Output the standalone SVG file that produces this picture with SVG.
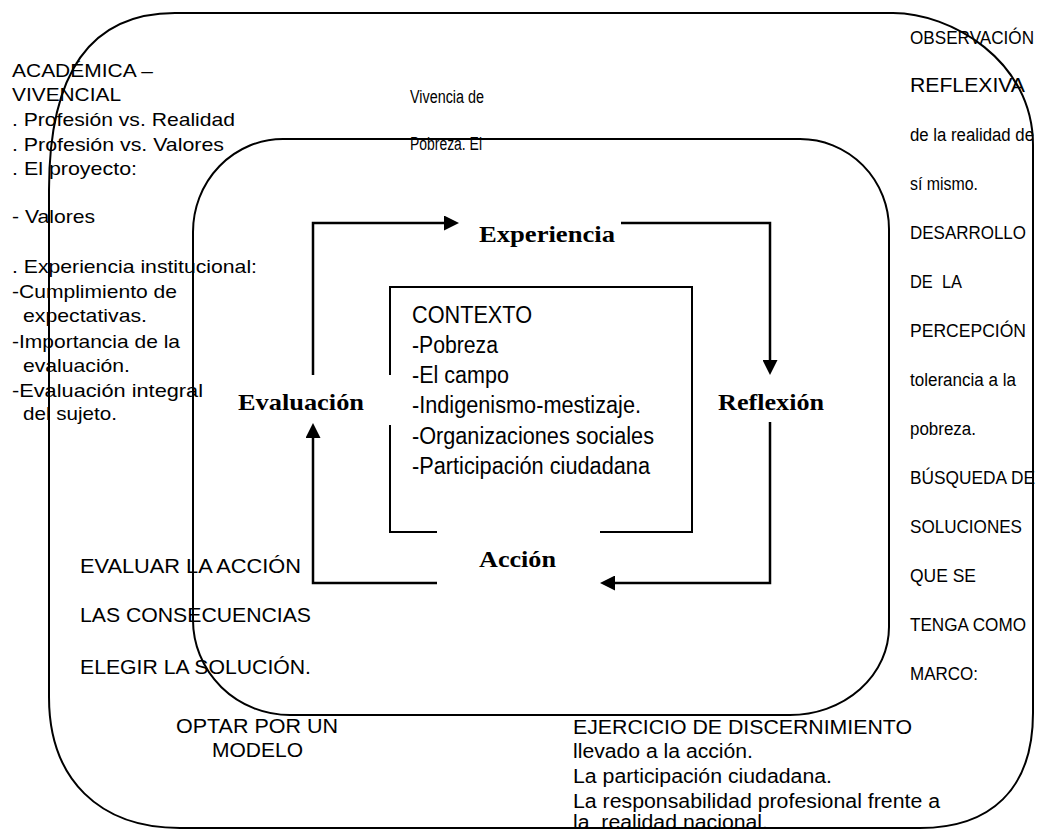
<svg xmlns="http://www.w3.org/2000/svg" width="1039" height="833" viewBox="0 0 1039 833">
<style>
.frame{fill:none;stroke:#000;stroke-width:2}
.conn{fill:none;stroke:#000;stroke-width:2.5;marker-end:url(#arr)}
.t{font-family:"Liberation Sans",Arial,sans-serif;font-size:19px;fill:#000}
.rf{font-family:"Liberation Sans",Arial,sans-serif;font-size:21px;fill:#000}
.n{font-family:"Liberation Sans Narrow","Arial Narrow","Liberation Sans",sans-serif;font-size:18px;fill:#000}
.b{font-family:"Liberation Sans Narrow","Arial Narrow","Liberation Sans",sans-serif;font-size:19.5px;fill:#000}
.ctx{font-family:"Liberation Sans Narrow","Arial Narrow","Liberation Sans",sans-serif;font-size:23px;fill:#000}
.lbl{font-family:"Liberation Serif","Times New Roman",serif;font-weight:bold;font-size:24px;fill:#000}
</style>
<defs>
<marker id="arr" markerUnits="userSpaceOnUse" markerWidth="15" markerHeight="15" refX="11" refY="7.5" orient="auto">
<path d="M0,0 L15,7.5 L0,15 Z" fill="#000"/>
</marker>
</defs>
<rect width="1039" height="833" fill="#fff"/>

<g id="outer-frame">
<path class="frame" d="M175,13 H893 C950,13 1033,60 1033,145 V713 C1033,790 990,828 920,828 H180 C100,828 49,780 49,697 V190 C49,60 100,13 175,13 Z"/>
</g>

<g id="inner-frame">
<path class="frame" d="M283,139 H800 A89,90 0 0 1 889,229 V627 A99,88 0 0 1 790,715 H290 A97,95 0 0 1 193,620 V232 A90,93 0 0 1 283,139 Z"/>
</g>

<g id="contexto">
<path class="frame" d="M390,375 V287 H692 V532 H600 M437,532 H390 V425"/>
<text class="ctx" x="412" y="323" textLength="120" lengthAdjust="spacingAndGlyphs">CONTEXTO</text>
<text class="ctx" x="412" y="353" textLength="86" lengthAdjust="spacingAndGlyphs">-Pobreza</text>
<text class="ctx" x="412" y="383" textLength="97" lengthAdjust="spacingAndGlyphs">-El campo</text>
<text class="ctx" x="412" y="413" textLength="229" lengthAdjust="spacingAndGlyphs">-Indigenismo-mestizaje.</text>
<text class="ctx" x="412" y="444" textLength="242" lengthAdjust="spacingAndGlyphs">-Organizaciones sociales</text>
<text class="ctx" x="412" y="474" textLength="238" lengthAdjust="spacingAndGlyphs">-Participación ciudadana</text>
</g>

<g id="experiencia"><text class="lbl" x="479" y="242" textLength="136" lengthAdjust="spacingAndGlyphs">Experiencia</text></g>
<g id="reflexion"><text class="lbl" x="718" y="410" textLength="106" lengthAdjust="spacingAndGlyphs">Reflexión</text></g>
<g id="accion"><text class="lbl" x="479" y="567" textLength="77" lengthAdjust="spacingAndGlyphs">Acción</text></g>
<g id="evaluacion"><text class="lbl" x="238" y="410" textLength="126" lengthAdjust="spacingAndGlyphs">Evaluación</text></g>

<g id="connectors">
<path class="conn" d="M313,375 V223 H455"/>
<path class="conn" d="M621,223 H770 V371"/>
<path class="conn" d="M770,422 V583 H604"/>
<path class="conn" d="M437,583 H313 V427"/>
</g>

<g id="academica-notes">
<text class="t" x="12" y="77" textLength="141" lengthAdjust="spacingAndGlyphs">ACADÉMICA –</text>
<text class="t" x="12" y="101" textLength="109" lengthAdjust="spacingAndGlyphs">VIVENCIAL</text>
<text class="t" x="12" y="125.5" textLength="223" lengthAdjust="spacingAndGlyphs">. Profesión vs. Realidad</text>
<text class="t" x="12" y="150.5" textLength="212" lengthAdjust="spacingAndGlyphs">. Profesión vs. Valores</text>
<text class="t" x="12" y="175" textLength="125" lengthAdjust="spacingAndGlyphs">. El proyecto:</text>
<text class="t" x="12" y="223" textLength="83" lengthAdjust="spacingAndGlyphs">- Valores</text>
<text class="t" x="12" y="273" textLength="245" lengthAdjust="spacingAndGlyphs">. Experiencia institucional:</text>
<text class="t" x="12" y="297.5" textLength="165" lengthAdjust="spacingAndGlyphs">-Cumplimiento de</text>
<text class="t" x="23" y="321.5" textLength="124" lengthAdjust="spacingAndGlyphs">expectativas.</text>
<text class="t" x="12" y="347.5" textLength="168" lengthAdjust="spacingAndGlyphs">-Importancia de la</text>
<text class="t" x="23" y="371.5" textLength="107" lengthAdjust="spacingAndGlyphs">evaluación.</text>
<text class="t" x="12" y="396.5" textLength="191" lengthAdjust="spacingAndGlyphs">-Evaluación integral</text>
<text class="t" x="23" y="420" textLength="94" lengthAdjust="spacingAndGlyphs">del sujeto.</text>
</g>

<g id="vivencia-notes">
<text class="n" x="410" y="103" textLength="74" lengthAdjust="spacingAndGlyphs">Vivencia de</text>
<text class="n" x="410" y="150" textLength="72" lengthAdjust="spacingAndGlyphs">Pobreza. El</text>
</g>

<g id="observacion-notes">
<text class="n" x="910" y="44" textLength="124" lengthAdjust="spacingAndGlyphs">OBSERVACIÓN</text>
<text class="rf" x="910" y="92" textLength="115" lengthAdjust="spacingAndGlyphs">REFLEXIVA</text>
<text class="n" x="910" y="141" textLength="124" lengthAdjust="spacingAndGlyphs">de la realidad de</text>
<text class="n" x="910" y="190" textLength="68" lengthAdjust="spacingAndGlyphs">sí mismo.</text>
<text class="n" x="910" y="239" textLength="116" lengthAdjust="spacingAndGlyphs">DESARROLLO</text>
<text class="n" x="910" y="288" textLength="52" lengthAdjust="spacingAndGlyphs" xml:space="preserve">DE  LA</text>
<text class="n" x="910" y="337" textLength="116" lengthAdjust="spacingAndGlyphs">PERCEPCIÓN</text>
<text class="n" x="910" y="386" textLength="106" lengthAdjust="spacingAndGlyphs">tolerancia a la</text>
<text class="n" x="910" y="435" textLength="66" lengthAdjust="spacingAndGlyphs">pobreza.</text>
<text class="n" x="910" y="484" textLength="125" lengthAdjust="spacingAndGlyphs">BÚSQUEDA DE</text>
<text class="n" x="910" y="533" textLength="112" lengthAdjust="spacingAndGlyphs">SOLUCIONES</text>
<text class="n" x="910" y="582" textLength="66" lengthAdjust="spacingAndGlyphs">QUE SE</text>
<text class="n" x="910" y="631" textLength="116" lengthAdjust="spacingAndGlyphs">TENGA COMO</text>
<text class="n" x="910" y="680" textLength="68" lengthAdjust="spacingAndGlyphs">MARCO:</text>
</g>

<g id="evaluar-notes">
<text class="b" x="80" y="573" textLength="221" lengthAdjust="spacingAndGlyphs">EVALUAR LA ACCIÓN</text>
<text class="b" x="80" y="622" textLength="231" lengthAdjust="spacingAndGlyphs">LAS CONSECUENCIAS</text>
<text class="b" x="80" y="674" textLength="231" lengthAdjust="spacingAndGlyphs">ELEGIR LA SOLUCIÓN.</text>
<text class="b" x="176" y="733" textLength="162" lengthAdjust="spacingAndGlyphs">OPTAR POR UN</text>
<text class="b" x="212" y="757" textLength="91" lengthAdjust="spacingAndGlyphs">MODELO</text>
</g>

<g id="discernimiento-notes">
<text class="b" x="573" y="734" textLength="339" lengthAdjust="spacingAndGlyphs">EJERCICIO DE DISCERNIMIENTO</text>
<text class="b" x="573" y="758" textLength="180" lengthAdjust="spacingAndGlyphs">llevado a la acción.</text>
<text class="b" x="573" y="783" textLength="259" lengthAdjust="spacingAndGlyphs">La participación ciudadana.</text>
<text class="b" x="573" y="808" textLength="367" lengthAdjust="spacingAndGlyphs">La responsabilidad profesional frente a</text>
<text class="b" x="573" y="829" textLength="195" lengthAdjust="spacingAndGlyphs" xml:space="preserve">la  realidad nacional.</text>
</g>
</svg>
